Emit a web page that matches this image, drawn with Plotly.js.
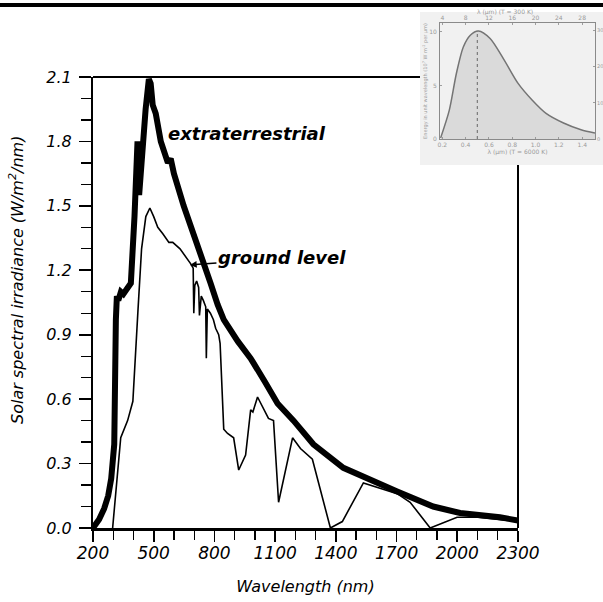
<!DOCTYPE html>
<html>
<head>
<meta charset="utf-8">
<script src="https://cdn.plot.ly/plotly-3.0.1.min.js"></script>
<style>html,body{margin:0;padding:0;background:#fff;}#chart{width:603px;height:602px;}</style>
</head>
<body>
<div id="chart"></div>
<script>
// ---- main chart data (wavelength in nm, irradiance in W/m^2/nm) ----
const extraWavelength = [200, 230, 255, 275, 290, 300, 305, 313, 318, 325, 338, 350, 372, 387, 405, 415, 420, 428, 440, 460, 476, 485, 495, 510, 535, 570, 584, 600, 648, 683, 717, 757, 781, 816, 846, 915, 979, 1050, 1112, 1191, 1289, 1437, 1555, 1703, 1881, 2014, 2211, 2300];
const extraIrradiance = [0.00, 0.04, 0.09, 0.15, 0.23, 0.33, 0.39, 0.97, 1.08, 1.06, 1.10, 1.09, 1.12, 1.14, 1.45, 1.62, 1.80, 1.55, 1.72, 1.95, 2.09, 2.07, 1.97, 1.93, 1.80, 1.70, 1.72, 1.65, 1.50, 1.41, 1.31, 1.21, 1.14, 1.04, 0.97, 0.87, 0.79, 0.68, 0.58, 0.50, 0.39, 0.28, 0.23, 0.17, 0.10, 0.07, 0.05, 0.035];

const groundWavelength = [297, 337, 371, 397, 422, 440, 461, 481, 500, 520, 545, 575, 594, 630, 683, 695, 698, 703, 712, 722, 726, 735, 745, 757, 760, 765, 780, 795, 806, 821, 828, 841, 846, 865, 895, 920, 954, 979, 990, 1013, 1067, 1092, 1117, 1186, 1225, 1284, 1324, 1373, 1432, 1536, 1703, 1767, 1866, 1999, 2100, 2300];
const groundIrradiance = [0.00, 0.42, 0.50, 0.59, 1.01, 1.30, 1.45, 1.49, 1.45, 1.40, 1.37, 1.33, 1.33, 1.30, 1.23, 1.21, 1.00, 1.13, 1.15, 1.12, 0.99, 1.08, 1.06, 1.03, 0.79, 1.02, 1.00, 0.97, 0.93, 0.90, 0.86, 0.50, 0.46, 0.44, 0.42, 0.27, 0.34, 0.55, 0.54, 0.61, 0.51, 0.50, 0.12, 0.42, 0.37, 0.32, 0.17, 0.00, 0.03, 0.21, 0.16, 0.12, 0.00, 0.05, 0.05, 0.03];

const xTickVals = [200, 500, 800, 1100, 1400, 1700, 2000, 2300];
const xTickText = ['200', '500', '800', '1100', '1400', '1700', '2000', '2300'];
const yTickVals = [0, 0.3, 0.6, 0.9, 1.2, 1.5, 1.8, 2.1];
const yTickText = ['0.0', '0.3', '0.6', '0.9', '1.2', '1.5', '1.8', '2.1'];

// ---- inset (blackbody curve, T = 6000 K) ----
const insetLambda = [0.185, 0.26, 0.32, 0.38, 0.44, 0.51, 0.61, 0.73, 0.85, 0.97, 1.09, 1.24, 1.39, 1.51];
const insetEnergy = [0.09, 2.7, 6.1, 8.6, 9.7, 10.1, 9.4, 7.4, 5.2, 3.65, 2.4, 1.5, 0.87, 0.56];
const insetPeakLambda = [0.5, 0.5];
const insetPeakEnergy = [0, 10.1];
const insetBottomTicks = [0.2, 0.4, 0.6, 0.8, 1.0, 1.2, 1.4];
const insetBottomText = ['0.2', '0.4', '0.6', '0.8', '1.0', '1.2', '1.4'];
const insetTopTicks = [4, 8, 12, 16, 20, 24, 28];
const insetLeftTicks = [0, 5, 10];
const insetRightTicks = [0, 10, 20, 30];

const W = 603, H = 602;
const px = v => v / W;
const py = v => 1 - v / H;

const FONT = '"DejaVu Sans", Verdana, sans-serif';
const insetGray = '#9a9a9a';

const traces = [
  {
    x: extraWavelength, y: extraIrradiance, type: 'scatter', mode: 'lines',
    name: 'extraterrestrial', line: {color: '#000', width: 6, shape: 'linear'},
    xaxis: 'x', yaxis: 'y', hoverinfo: 'x+y'
  },
  {
    x: groundWavelength, y: groundIrradiance, type: 'scatter', mode: 'lines',
    name: 'ground level', line: {color: '#000', width: 1.6, shape: 'linear'},
    xaxis: 'x', yaxis: 'y', hoverinfo: 'x+y'
  },
  {
    x: insetLambda, y: insetEnergy, type: 'scatter', mode: 'lines',
    fill: 'tozeroy', fillcolor: '#dadada',
    line: {color: '#747474', width: 1.5, shape: 'spline', smoothing: 0.8},
    xaxis: 'x2', yaxis: 'y2', hoverinfo: 'skip'
  },
  {
    x: insetPeakLambda, y: insetPeakEnergy, type: 'scatter', mode: 'lines',
    line: {color: '#666', width: 1, dash: 'dot'},
    xaxis: 'x2', yaxis: 'y2', hoverinfo: 'skip'
  },
  {x: [], y: [], type: 'scatter', mode: 'lines', xaxis: 'x3', yaxis: 'y2', hoverinfo: 'skip'},
  {x: [], y: [], type: 'scatter', mode: 'lines', xaxis: 'x2', yaxis: 'y3', hoverinfo: 'skip'}
];

const insetTick = {size: 6, color: insetGray, family: FONT};
const insetTitle = {size: 6, color: insetGray, family: FONT};

const layout = {
  width: W, height: H, autosize: false,
  margin: {l: 0, r: 0, t: 0, b: 0, pad: 0},
  paper_bgcolor: '#ffffff', plot_bgcolor: 'rgba(0,0,0,0)',
  showlegend: false,
  font: {family: FONT, color: '#000'},
  xaxis: {
    domain: [px(93), px(518)], range: [200, 2300], anchor: 'y',
    tickmode: 'array', tickvals: xTickVals, ticktext: xTickText,
    ticks: 'outside', ticklen: 11, tickwidth: 1.6, tickcolor: '#000',
    minor: {tickmode: 'linear', tick0: 200, dtick: 100, ticks: 'outside', ticklen: 9, tickwidth: 1.3, tickcolor: '#000', showgrid: false},
    ticklabelstandoff: -3,
    tickfont: {family: FONT, size: 17, style: 'italic', color: '#000'},
    showline: true, linecolor: '#000', linewidth: 2.5, mirror: false,
    showgrid: false, zeroline: false,
    title: {text: 'Wavelength (nm)', font: {family: FONT, size: 16, style: 'italic', color: '#000'}, standoff: 19}
  },
  yaxis: {
    domain: [py(528), py(77)], range: [0, 2.1], anchor: 'x',
    tickmode: 'array', tickvals: yTickVals, ticktext: yTickText,
    ticks: 'outside', ticklen: 12, tickwidth: 1.6, tickcolor: '#000',
    minor: {tickmode: 'linear', tick0: 0, dtick: 0.1, ticks: 'outside', ticklen: 10, tickwidth: 1.3, tickcolor: '#000', showgrid: false},
    ticklabelstandoff: 4,
    tickfont: {family: FONT, size: 16, style: 'italic', color: '#000'},
    showline: true, linecolor: '#000', linewidth: 2, mirror: false,
    showgrid: false, zeroline: false
  },
  xaxis2: {
    domain: [px(440), px(595)], range: [0.18, 1.51], anchor: 'y2',
    tickmode: 'array', tickvals: insetBottomTicks, ticktext: insetBottomText,
    ticks: 'inside', ticklen: 2, tickwidth: 0.8, tickcolor: '#8a8a8a',
    tickfont: insetTick, ticklabelstandoff: 0,
    showline: true, linecolor: '#8a8a8a', linewidth: 1,
    showgrid: false, zeroline: false,
    title: {text: 'λ (μm) (T = 6000 K)', font: insetTitle, standoff: 2}
  },
  xaxis3: {
    overlaying: 'x2', side: 'top', anchor: 'y2', range: [3.6, 30.2],
    tickmode: 'array', tickvals: insetTopTicks,
    ticks: 'inside', ticklen: 2, tickwidth: 0.8, tickcolor: '#8a8a8a',
    tickfont: insetTick, ticklabelstandoff: 0,
    showline: true, linecolor: '#8a8a8a', linewidth: 1,
    showgrid: false, zeroline: false
  },
  yaxis2: {
    domain: [py(139), py(23)], range: [0, 10.84], anchor: 'x2',
    tickmode: 'array', tickvals: insetLeftTicks,
    ticks: 'inside', ticklen: 2, tickwidth: 0.8, tickcolor: '#8a8a8a',
    tickfont: insetTick, ticklabelstandoff: 1,
    showline: true, linecolor: '#8a8a8a', linewidth: 1,
    showgrid: false, zeroline: false,
    title: {text: 'Energy in unit wavelength (10<sup>7</sup> W m<sup>-2</sup> per μm)', font: {size: 5, color: insetGray, family: FONT}, standoff: 1}
  },
  yaxis3: {
    overlaying: 'y2', side: 'right', anchor: 'x2', range: [0, 32],
    tickmode: 'array', tickvals: insetRightTicks,
    ticks: 'inside', ticklen: 2, tickwidth: 0.8, tickcolor: '#8a8a8a',
    tickfont: {size: 5, color: insetGray, family: FONT}, ticklabelstandoff: 0,
    showline: true, linecolor: '#8a8a8a', linewidth: 1,
    showgrid: false, zeroline: false
  },
  shapes: [
    // top rule of the page
    {type: 'line', xref: 'paper', yref: 'paper', x0: 0, x1: 1, y0: py(5), y1: py(5), line: {color: '#000', width: 4}, layer: 'above'},
    // inset background (scanned figure)
    {type: 'rect', xref: 'paper', yref: 'paper', x0: px(420), x1: 1, y0: py(165), y1: py(12), fillcolor: '#f1f1f1', line: {width: 0}, layer: 'below'},
    // frame of the main plot (top and right), interrupted by the inset
    {type: 'line', xref: 'paper', yref: 'paper', x0: px(93), x1: px(420), y0: py(77), y1: py(77), line: {color: '#000', width: 2}, layer: 'below'},
    {type: 'line', xref: 'paper', yref: 'paper', x0: px(518), x1: px(518), y0: py(528), y1: py(165), line: {color: '#000', width: 2}, layer: 'below'}
  ],
  annotations: [
    {
      text: 'Solar spectral irradiance (W/m<sup>2</sup>/nm)', xref: 'paper', yref: 'paper',
      x: px(17), y: py(280), xanchor: 'center', yanchor: 'middle', textangle: -90, showarrow: false,
      font: {family: FONT, size: 16, style: 'italic', color: '#000'}
    },
    {
      text: 'λ (μm) (T = 300 K)', xref: 'paper', yref: 'paper',
      x: px(505), y: py(12), xanchor: 'center', yanchor: 'middle', showarrow: false,
      font: insetTitle
    },
    {
      text: 'extraterrestrial', xref: 'x', yref: 'y', x: 961, y: 1.835,
      xanchor: 'center', yanchor: 'middle', showarrow: false,
      font: {family: FONT, size: 18, style: 'italic', weight: 'bold', color: '#000'}
    },
    {
      text: 'ground level', xref: 'x', yref: 'y', x: 679, y: 1.225,
      ax: 92, ay: -7, showarrow: true, arrowhead: 2, arrowsize: 0.9, arrowwidth: 1.5, arrowcolor: '#000',
      font: {family: FONT, size: 18, style: 'italic', weight: 'bold', color: '#000'}
    }
  ]
};

Plotly.newPlot('chart', traces, layout, {displayModeBar: false, staticPlot: true});
</script>
</body>
</html>
